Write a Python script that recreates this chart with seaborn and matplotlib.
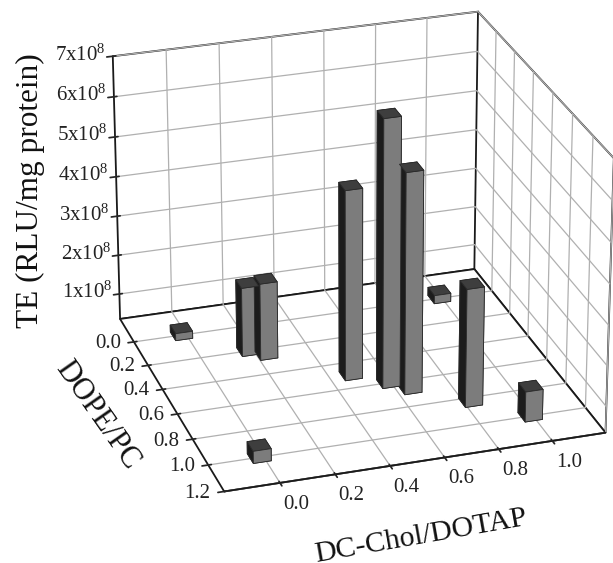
import matplotlib
matplotlib.use("Agg")
import matplotlib.pyplot as plt
import seaborn as sns

# DC-Chol/DOTAP ratio, DOPE/PC ratio and transfection efficiency for each bar
dc_chol = [-0.018, 0.18, 0.235, 0.48, 0.59, 0.65, 0.825, 0.99, 0.99, -0.015]
dope_pc = [0.0, 0.2, 0.25, 0.5, 0.6, 0.67, 0.83, 0.0, 1.0, 1.0]
te = [0.53e8, 2.09e8, 2.29e8, 5.09e8, 7.0e8, 5.84e8, 3.29e8, 0.56e8, 1.1e8, 0.65e8]

x_ticks = [0.0, 0.2, 0.4, 0.6, 0.8, 1.0]
y_ticks = [0.0, 0.2, 0.4, 0.6, 0.8, 1.0, 1.2]
z_ticks = [1e8, 2e8, 3e8, 4e8, 5e8, 6e8, 7e8]
x_labels = ["0.0", "0.2", "0.4", "0.6", "0.8", "1.0"]
y_labels = ["0.0", "0.2", "0.4", "0.6", "0.8", "1.0", "1.2"]
z_labels = ["1x10$^{8}$ ", "2x10$^{8}$ ", "3x10$^{8}$ ", "4x10$^{8}$ ", "5x10$^{8}$ ", "6x10$^{8}$ ", "7x10$^{8}$ "]

x_lim = (-0.2, 1.2)
y_lim = (1.2, -0.2)
z_lim = (0.35e8, 7e8)

BAR_DX = 0.065
BAR_DY = 0.075
# -z, +z, -y, +y, -x, +x
FACE_COLORS = ["#1c1c1c", "#3e3e3e", "#3e3e3e", "#7c7c7c", "#1c1c1c", "#7c7c7c"]

sns.set_theme(style="white", rc={"grid.color": "#b0b0b0", "grid.linewidth": 0.9, "mathtext.default": "regular"})
plt.rcParams["font.family"] = ["Liberation Serif", "DejaVu Serif"]

fig = plt.figure(figsize=(6.13, 5.63), dpi=100)
# square 3d box, sized so the projection lands where the walls are in the original
ax = fig.add_axes([43 / 613, 7.8 / 563, 609.7 / 613, 609.7 / 563], projection="3d")
ax.view_init(elev=25.358, azim=-107.845, roll=-0.013)
ax.set_proj_type("persp", focal_length=1.223)
ax.set_box_aspect((1, 0.997, 0.758))

ax.bar3d(
    [v - BAR_DX / 2 for v in dc_chol],
    [v - BAR_DY / 2 for v in dope_pc],
    [z_lim[0]] * len(te),
    BAR_DX,
    BAR_DY,
    [v - z_lim[0] for v in te],
    color=FACE_COLORS * len(te),
    shade=False,
    edgecolor="#2a2a2a",
    linewidth=0.6,
)

ax.set_xlim(*x_lim)
ax.set_ylim(*y_lim)
ax.set_zlim(*z_lim)
ax.set_xticks(x_ticks, x_labels, fontsize=15, color="#222222", ha="left", va="top")
ax.set_yticks(y_ticks, y_labels, fontsize=15, color="#222222", ha="right", va="bottom")
ax.set_zticks(z_ticks, z_labels, fontsize=15, color="#222222", ha="right", va="center")
ax.tick_params(axis="x", pad=-2)
ax.tick_params(axis="y", pad=0)
ax.tick_params(axis="z", pad=-5)
ax.grid(True)

for axis in (ax.xaxis, ax.yaxis, ax.zaxis):
    axis.set_pane_color("white")
    axis.pane.set_edgecolor("#1a1a1a")
    axis.pane.set_linewidth(1.3)
    axis.line.set_color("#1a1a1a")
    axis.line.set_linewidth(1.3)

fig.text(30 / 613, 1 - 191 / 563, "TE (RLU/mg protein)", fontsize=22.5, rotation=90, ha="center", va="center", color="#111111")
fig.text(97 / 613, 1 - 415 / 563, "DOPE/PC", fontsize=22, rotation=-55, ha="center", va="center", color="#111111")
fig.text(421 / 613, 1 - 536 / 563, "DC-Chol/DOTAP", fontsize=21.5, rotation=10, ha="center", va="center", color="#111111")

fig.savefig("out.png", dpi=100)
